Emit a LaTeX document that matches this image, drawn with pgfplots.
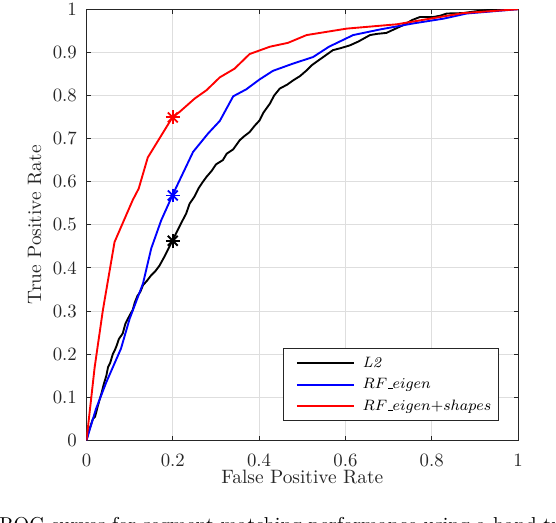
\documentclass[border=0pt]{standalone}
\usepackage{pgfplots}
\pgfplotsset{compat=1.18}
\definecolor{axgray}{rgb}{0.15,0.15,0.15}
\definecolor{gridgray}{rgb}{0.87,0.87,0.87}
\newcommand{\us}{\mbox{\kern.06em\vbox{\hrule width.3em height 0.45pt}}}
\begin{document}
\begin{tikzpicture}
\useasboundingbox (-46.0pt,-43.6pt) rectangle (249.7pt,234.2pt);
\begin{axis}[
  at={(0pt,0pt)}, anchor=south west,
  scale only axis, width=229.5pt, height=229.3pt,
  xmin=0, xmax=1, ymin=0, ymax=1,
  xtick={0,0.2,0.4,0.6,0.8,1},
  xticklabels={0,0.2,0.4,0.6,0.8,1},
  ytick={0,0.1,0.2,0.3,0.4,0.5,0.6,0.7,0.8,0.9,1},
  yticklabels={0,0.1,0.2,0.3,0.4,0.5,0.6,0.7,0.8,0.9,1},
  grid=major,
  major grid style={gridgray, line width=0.5pt},
  axis line style={axgray, line width=0.5pt},
  tick align=inside, major tick length=2.3pt,
  tick style={axgray, line width=0.5pt},
  ticklabel style={text=axgray, font=\fontsize{10}{12}\selectfont},
  xticklabel style={yshift=-3.7pt},
  yticklabel style={xshift=-1.6pt},
  xlabel={False Positive Rate},
  ylabel={True Positive Rate},
  label style={text=axgray, font=\fontsize{10.3}{12}\selectfont},
  xlabel style={at={(axis description cs:0.5,-0.1003)}, anchor=base},
  ylabel style={at={(axis description cs:-0.1198,0.5)}, anchor=center},
  legend style={at={(rel axis cs:1,0)}, anchor=south east,
    xshift=-10.1pt, yshift=10.3pt,
    draw=axgray, line width=0.5pt, fill=white,
    inner xsep=3.9pt, inner ysep=2.8pt,
    font=\fontsize{8.3}{10}\selectfont,
    row sep=2pt, column sep=4.1pt,
    nodes={inner sep=0pt, text height=7pt, text depth=2.5pt, text=black}},
  legend cell align=left,
  legend image code/.code={\path (0pt,0pt); \draw[#1, line width=1pt] (2.5pt,0pt) -- (32.9pt,0pt);},
]
\addplot[black, line width=1pt] coordinates {
(0,0) (0.005,0.02) (0.01,0.035) (0.015,0.05) (0.02,0.055) (0.025,0.075)
(0.03,0.093) (0.035,0.11) (0.04,0.13) (0.046,0.15) (0.05,0.17) (0.055,0.18)
(0.061,0.20) (0.066,0.21) (0.07,0.22) (0.075,0.235) (0.084,0.248) (0.09,0.27)
(0.095,0.28) (0.1,0.29) (0.107,0.302) (0.112,0.32) (0.118,0.335) (0.125,0.345)
(0.131,0.36) (0.14,0.37) (0.15,0.383) (0.16,0.393) (0.169,0.405) (0.18,0.425)
(0.19,0.445) (0.199,0.463) (0.21,0.485) (0.22,0.505) (0.231,0.526) (0.239,0.549)
(0.25,0.565) (0.26,0.585) (0.27,0.60) (0.278,0.611) (0.29,0.625) (0.30,0.64)
(0.316,0.650) (0.325,0.665) (0.34,0.675) (0.355,0.696) (0.365,0.705) (0.378,0.715)
(0.39,0.73) (0.401,0.742) (0.41,0.76) (0.425,0.781) (0.435,0.80) (0.448,0.816)
(0.465,0.825) (0.479,0.835) (0.495,0.845) (0.510,0.858) (0.522,0.87) (0.533,0.878)
(0.55,0.89) (0.571,0.905) (0.59,0.91) (0.610,0.916) (0.63,0.925) (0.657,0.940)
(0.675,0.943) (0.695,0.945) (0.71,0.952) (0.734,0.963) (0.755,0.975) (0.773,0.982)
(0.804,0.982) (0.82,0.985) (0.835,0.990) (0.873,0.991) (0.9,0.995) (0.95,1.0) (1,1)
};
\addlegendentry{$\mathit{L2}$}
\addplot[blue, line width=1pt] coordinates {
(0,0) (0.022,0.073) (0.046,0.135) (0.080,0.213) (0.1,0.282) (0.131,0.364)
(0.15,0.445) (0.173,0.510) (0.199,0.568) (0.247,0.669) (0.282,0.712) (0.309,0.741)
(0.340,0.798) (0.370,0.814) (0.401,0.837) (0.432,0.857) (0.479,0.874) (0.525,0.889)
(0.562,0.913) (0.618,0.940) (0.680,0.953) (0.757,0.967) (0.827,0.978) (0.881,0.990) (1,1)
};
\addlegendentry{$RF\us eigen$}
\addplot[red, line width=1pt] coordinates {
(0,0) (0.019,0.170) (0.038,0.302) (0.065,0.46) (0.107,0.557) (0.121,0.584)
(0.142,0.656) (0.199,0.749) (0.216,0.762) (0.251,0.793) (0.278,0.812) (0.309,0.842)
(0.343,0.862) (0.378,0.896) (0.425,0.913) (0.467,0.922) (0.510,0.940) (0.603,0.955)
(0.719,0.965) (0.796,0.978) (0.873,0.991) (1,1)
};
\addlegendentry{$RF\us eigen{+}shapes$}
\addplot[black, line width=1pt, only marks, mark=+, mark size=3.7pt, forget plot] coordinates {(0.2,0.463)};
\addplot[black, line width=1pt, only marks, mark=x, mark size=3.7pt, forget plot] coordinates {(0.2,0.463)};
\addplot[blue, line width=1pt, only marks, mark=+, mark size=3.7pt, forget plot] coordinates {(0.2,0.568)};
\addplot[blue, line width=1pt, only marks, mark=x, mark size=3.7pt, forget plot] coordinates {(0.2,0.568)};
\addplot[red, line width=1pt, only marks, mark=+, mark size=3.7pt, forget plot] coordinates {(0.2,0.749)};
\addplot[red, line width=1pt, only marks, mark=x, mark size=3.7pt, forget plot] coordinates {(0.2,0.749)};
\end{axis}
\node[anchor=base west, inner sep=0pt, font=\fontsize{10.7}{13}\selectfont] at (-46.5pt,-48.4pt) {ROC curves for segment matching performance using a hand-tuned};
\end{tikzpicture}
\end{document}
